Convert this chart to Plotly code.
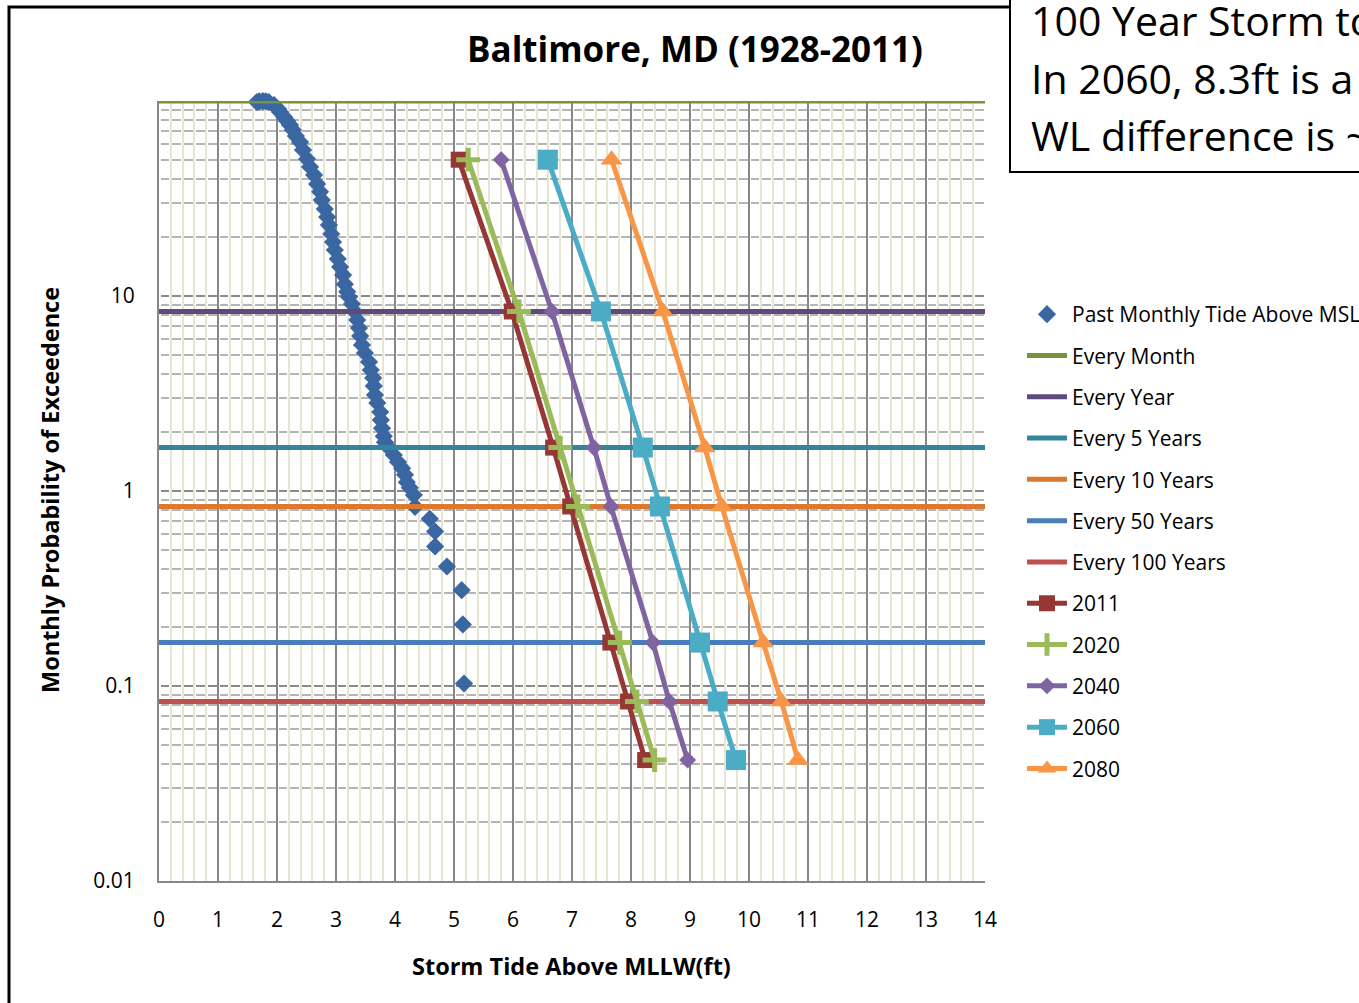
import plotly.graph_objects as go

# ---- Past monthly storm tides at Baltimore (ft above MLLW) and % monthly exceedance
past_tide_ft = [1.66, 1.70, 1.76, 1.81, 1.86, 1.95, 2.02, 2.05, 2.12, 2.17, 2.22, 2.27,
                2.32, 2.39, 2.44, 2.51, 2.56, 2.63, 2.68, 2.73, 2.76, 2.81, 2.85, 2.88,
                2.92, 2.95, 2.98, 3.03, 3.07, 3.12, 3.15, 3.19, 3.22, 3.27, 3.32, 3.36,
                3.39, 3.41, 3.44, 3.49, 3.56, 3.59, 3.63, 3.64, 3.66, 3.70, 3.75, 3.76,
                3.78, 3.81, 3.83, 3.90, 3.98, 4.05, 4.12, 4.17, 4.20, 4.25, 4.32,
                4.34, 4.59, 4.68, 4.68, 4.88, 5.13, 5.15, 5.17]
past_exceed_pct = [98.8, 99.5, 99.9, 99.5, 98.8, 95.4, 91.0, 87.8, 82.8, 79.0, 75.3, 71.0,
                   66.1, 61.6, 56.1, 50.4, 45.9, 41.7, 37.5, 34.2, 31.1, 27.9, 25.4, 23.1,
                   20.8, 18.9, 17.2, 15.5, 14.1, 12.8, 11.5, 10.5, 9.88, 9.10, 8.28, 7.53,
                   6.85, 6.24, 5.61, 5.10, 4.59, 4.17, 3.80, 3.46, 3.11, 2.83, 2.54, 2.31,
                   2.10, 1.91, 1.78, 1.66, 1.53, 1.41, 1.31, 1.21, 1.11, 1.04, 0.954,
                   0.83, 0.72, 0.62, 0.52, 0.41, 0.31, 0.207, 0.103]

# ---- Recurrence levels (monthly exceedance probability, %)
recurrence_names = ["Every Month", "Every Year", "Every 5 Years",
                    "Every 10 Years", "Every 50 Years", "Every 100 Years"]
recurrence_pct = [100, 8.33, 1.67, 0.833, 0.167, 0.0833]
recurrence_colors = ["#77933C", "#604A7B", "#31859C", "#DA7A2E", "#4A7EBB", "#C0504D"]
x_span = [0, 14]

# ---- Projected storm tide frequency curves
proj_pct = [50, 8.33, 1.67, 0.833, 0.167, 0.0833, 0.0417]
proj_years = ["2011", "2020", "2040", "2060", "2080"]
proj_tide_ft = {
    "2011": [5.08, 5.98, 6.68, 6.97, 7.65, 7.95, 8.24],
    "2020": [5.24, 6.10, 6.80, 7.10, 7.81, 8.10, 8.40],
    "2040": [5.80, 6.66, 7.37, 7.66, 8.37, 8.65, 8.96],
    "2060": [6.59, 7.49, 8.20, 8.49, 9.17, 9.47, 9.78],
    "2080": [7.67, 8.54, 9.25, 9.54, 10.24, 10.55, 10.83],
}
proj_style = {
    "2011": dict(color="#953735", symbol="square", size=16),
    "2020": dict(color="#9BBB59", symbol="cross-thin", size=17),
    "2040": dict(color="#8064A2", symbol="diamond", size=13),
    "2060": dict(color="#4BACC6", symbol="square", size=20),
    "2080": dict(color="#F79646", symbol="triangle-up", size=19),
}

x_ticks = list(range(0, 15))
y_ticks = [0.01, 0.1, 1, 10]
y_tick_text = ["0.01", "0.1", "1", "10"]
y_minor = [m * 10 ** e for e in (-2, -1, 0, 1) for m in range(2, 10)]

note_lines = ["100 Year Storm today is 8.0ft",
              "In 2060, 8.3ft is a 5 Year Storm",
              "WL difference is ~1.5ft"]

# ---- Figure geometry (pixels)
W, H = 1359, 1003
L, R, T, B = 159, 985, 101, 881
FONT = "Open Sans"


def px_x(p):
    return (p - L) / (R - L)


def px_y(p):
    return (B - p) / (B - T)


fig = go.Figure()

fig.add_trace(go.Scatter(
    x=past_tide_ft, y=past_exceed_pct, mode="markers",
    name="Past Monthly Tide Above MSL", legendgroup="past",
    marker=dict(symbol="diamond", size=14, color="#3A66A1"),
    cliponaxis=False,
))

for name, pct, col in zip(recurrence_names, recurrence_pct, recurrence_colors):
    fig.add_trace(go.Scatter(
        x=x_span, y=[pct, pct], mode="lines", name=name, legendgroup=name,
        line=dict(color=col, width=5), cliponaxis=False,
    ))

for yr in proj_years:
    st = proj_style[yr]
    marker = dict(symbol=st["symbol"], size=st["size"], color=st["color"])
    if st["symbol"].endswith("-thin"):
        marker["line"] = dict(color=st["color"], width=5)
    fig.add_trace(go.Scatter(
        x=proj_tide_ft[yr], y=proj_pct, mode="lines+markers", name=yr,
        legendgroup=yr, line=dict(color=st["color"], width=5), marker=marker,
    ))

dash = "0px,1.5px,8.8px,1.5px"

fig.update_xaxes(
    range=[0, 14], tickvals=x_ticks, ticks="", showgrid=True,
    gridcolor="#878787", gridwidth=2, zeroline=False,
    showline=True, linecolor="#878787", linewidth=2,
    tickfont=dict(family=FONT, size=21, color="black"), ticklabelstandoff=19,
    minor=dict(dtick=0.2, tick0=0, showgrid=True, gridcolor="#E6E6D3", gridwidth=2),
)
fig.update_yaxes(
    type="log", range=[-2, 2], tickvals=y_ticks, ticktext=y_tick_text, ticks="",
    showgrid=True, gridcolor="#8A8A8A", gridwidth=2, griddash=dash,
    zeroline=False, showline=True, linecolor="#878787", linewidth=2,
    tickfont=dict(family=FONT, size=21, color="black"), ticklabelstandoff=18,
    minor=dict(tickvals=y_minor, showgrid=True, gridcolor="#B5B5B5",
               gridwidth=2, griddash=dash),
)

annotations = [
    dict(text="<b>Baltimore, MD (1928-2011)</b>", x=px_x(695), y=px_y(48),
         font=dict(family=FONT, size=35, color="black")),
    dict(text="<b>Storm Tide Above MLLW(ft)</b>", x=px_x(571), y=px_y(966),
         font=dict(family=FONT, size=23.5, color="black")),
    dict(text="<b>Monthly Probability of Exceedence</b>", x=px_x(50), y=px_y(490),
         textangle=-90, font=dict(family=FONT, size=23.5, color="black")),
]
for i, line in enumerate(note_lines):
    annotations.append(dict(text=line, x=px_x(1029), y=px_y(20 + 57.5 * i),
                            xanchor="left",
                            font=dict(family=FONT, size=41, color="black")))
for a in annotations:
    a.setdefault("xanchor", "center")
    a.update(xref="paper", yref="paper", showarrow=False, yanchor="middle")

shapes = [
    # outer chart frame
    dict(type="rect", xref="paper", yref="paper",
         x0=px_x(9), x1=px_x(1600), y0=px_y(1200), y1=px_y(7),
         line=dict(color="black", width=3), fillcolor="rgba(0,0,0,0)"),
    # note box
    dict(type="rect", xref="paper", yref="paper",
         x0=px_x(1010), x1=px_x(1600), y0=px_y(172), y1=px_y(-30),
         line=dict(color="black", width=2), fillcolor="white"),
]

fig.update_layout(
    width=W, height=H, autosize=False,
    margin=dict(l=L, r=W - R, t=T, b=H - B, pad=0, autoexpand=False),
    paper_bgcolor="white", plot_bgcolor="white",
    font=dict(family=FONT, color="black"),
    annotations=annotations, shapes=shapes,
    showlegend=True,
    legend=dict(x=px_x(1022), y=px_y(294), xanchor="left", yanchor="top",
                font=dict(family=FONT, size=21, color="black"),
                itemwidth=40, tracegroupgap=11, traceorder="grouped",
                bgcolor="rgba(0,0,0,0)", borderwidth=0),
)

fig.write_html("out.html")
